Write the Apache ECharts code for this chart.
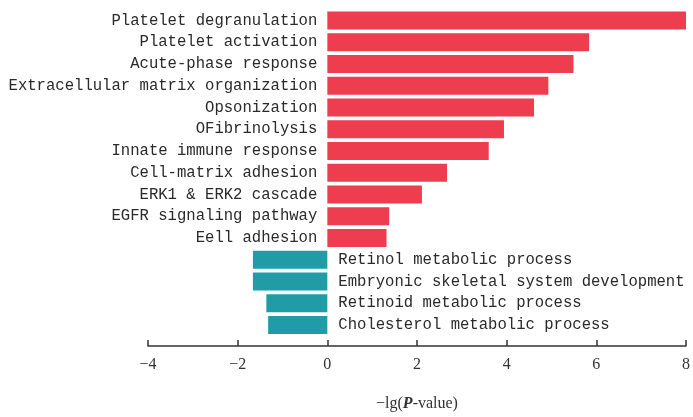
<!DOCTYPE html>
<html>
<head>
<meta charset="utf-8">
<script src="https://cdn.jsdelivr.net/npm/echarts@6/dist/echarts.min.js"></script>
<style>
  html, body { margin: 0; padding: 0; background: #fff; }
  #chart { width: 693px; height: 417px; }
</style>
</head>
<body>
<div id="chart"></div>
<script>
// Enriched GO terms, top to bottom
const upTerms = [
  'Platelet degranulation',
  'Platelet activation',
  'Acute-phase response',
  'Extracellular matrix organization',
  'Opsonization',
  'OFibrinolysis',
  'Innate immune response',
  'Cell-matrix adhesion',
  'ERK1 & ERK2 cascade',
  'EGFR signaling pathway',
  'Eell adhesion'
];
const upValues = [8.0, 5.84, 5.49, 4.93, 4.61, 3.94, 3.6, 2.67, 2.11, 1.38, 1.32];

const downTerms = [
  'Retinol metabolic process',
  'Embryonic skeletal system development',
  'Retinoid metabolic process',
  'Cholesterol metabolic process'
];
const downValues = [-1.66, -1.66, -1.36, -1.32];

const xTicks = [-4, -2, 0, 2, 4, 6, 8];

const upColor = '#EE3D4F';
const downColor = '#1F9CA6';
const labelFont = 'Liberation Mono';
const tickFont = 'Liberation Serif';

const terms = upTerms.concat(downTerms);
const seriesData = upValues.map(v => ({
  value: v,
  itemStyle: { color: upColor },
  label: { position: 'left', distance: 10 }
})).concat(downValues.map(v => ({
  value: v,
  itemStyle: { color: downColor },
  label: { position: 'right', distance: 11 }
})));

const chart = echarts.init(document.getElementById('chart'), null, { renderer: 'canvas' });
chart.setOption({
  animation: false,
  backgroundColor: '#ffffff',
  grid: { left: 148, right: 5, top: 9.5, bottom: 77.5, containLabel: false },
  xAxis: {
    type: 'value',
    min: xTicks[0],
    max: xTicks[xTicks.length - 1],
    interval: 2,
    offset: 10,
    splitLine: { show: false },
    axisLine: { show: true, lineStyle: { color: '#333', width: 1.5 } },
    axisTick: { show: true, inside: true, length: 6, lineStyle: { color: '#333', width: 1.5 } },
    axisLabel: {
      margin: 11,
      color: '#333',
      fontFamily: tickFont,
      fontSize: 16,
      formatter: v => String(v).replace('-', '\u2212')
    },
    name: '{n|\u2212lg(}{i|P}{n|-value)}',
    nameLocation: 'middle',
    nameGap: 50,
    nameTextStyle: {
      rich: {
        n: { fontFamily: tickFont, fontSize: 16, color: '#333' },
        i: { fontFamily: tickFont, fontSize: 16, color: '#333', fontStyle: 'italic', fontWeight: 'bold' }
      }
    }
  },
  yAxis: {
    type: 'category',
    data: terms,
    inverse: true,
    axisLine: { show: false },
    axisTick: { show: false },
    axisLabel: { show: false },
    splitLine: { show: false }
  },
  series: [{
    type: 'bar',
    data: seriesData,
    barWidth: 18,
    label: {
      show: true,
      fontFamily: labelFont,
      fontSize: 15.6,
      color: '#2a2a2a',
      formatter: p => terms[p.dataIndex]
    }
  }]
});
</script>
</body>
</html>
